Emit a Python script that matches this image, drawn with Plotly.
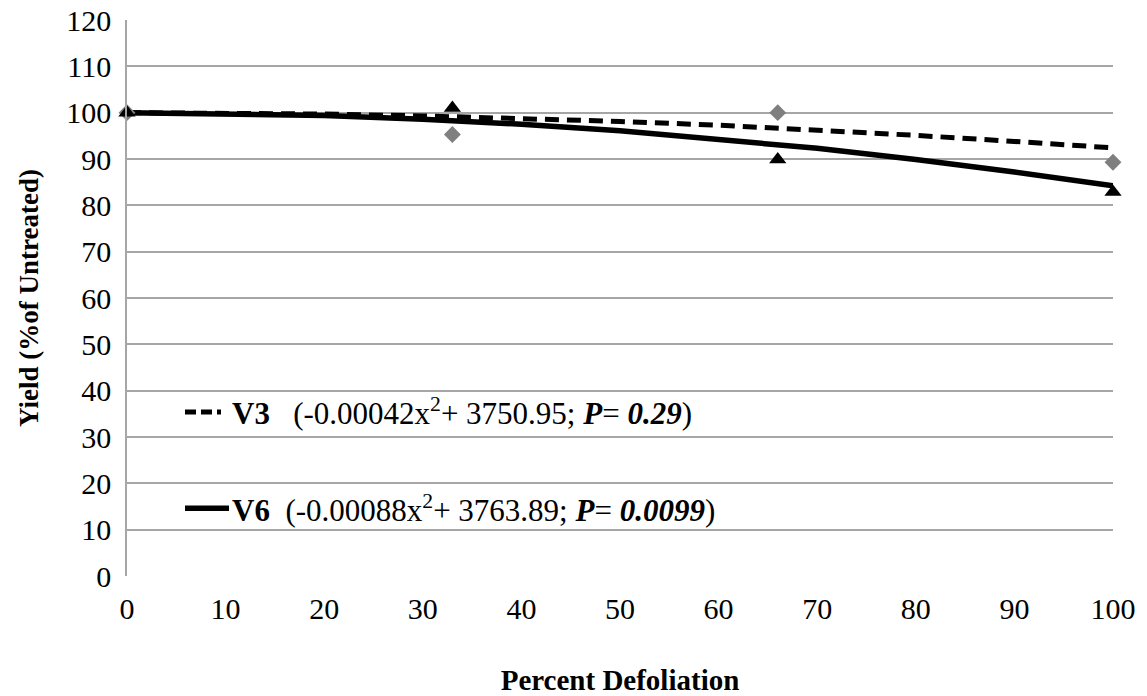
import plotly.graph_objects as go

# Observed yields (% of untreated) at each defoliation level
defoliation = [0, 33, 66, 100]
v3_yield = [100.0, 95.3, 100.0, 89.3]
v6_yield = [100.0, 101.0, 89.9, 82.9]

# Fitted quadratic trend curves, sampled every 10 % defoliation
trend_x = [0, 10, 20, 30, 40, 50, 60, 70, 80, 90, 100]
v3_trend = [100.0, 99.9, 99.7, 99.3, 98.8, 98.1, 97.3, 96.3, 95.1, 93.8, 92.4]
v6_trend = [100.0, 99.8, 99.4, 98.6, 97.5, 96.1, 94.3, 92.3, 89.9, 87.2, 84.2]

x_ticks = [0, 10, 20, 30, 40, 50, 60, 70, 80, 90, 100]
y_ticks = [0, 10, 20, 30, 40, 50, 60, 70, 80, 90, 100, 110, 120]

v3_label = "<b>V3</b>   (-0.00042x<sup>2</sup>+ 3750.95; <b><i>P</i></b>= <b><i>0.29</i></b>)"
v6_label = "<b>V6</b>  (-0.00088x<sup>2</sup>+ 3763.89; <b><i>P</i></b>= <b><i>0.0099</i></b>)"

FONT = "Liberation Serif, Times New Roman, serif"

fig = go.Figure()

fig.add_trace(go.Scatter(
    x=trend_x, y=v3_trend, mode="lines",
    line=dict(color="black", width=5, dash="14px,8px"),
    showlegend=False, hoverinfo="skip"))
fig.add_trace(go.Scatter(
    x=trend_x, y=v6_trend, mode="lines",
    line=dict(color="black", width=5.5),
    showlegend=False, hoverinfo="skip"))
fig.add_trace(go.Scatter(
    x=defoliation, y=v3_yield, mode="markers",
    marker=dict(symbol="diamond", size=13, color="#7f7f7f"),
    showlegend=False, cliponaxis=False))
fig.add_trace(go.Scatter(
    x=defoliation, y=v6_yield, mode="markers",
    marker=dict(symbol="triangle-up", size=15, color="black"),
    showlegend=False, cliponaxis=False))

# Hand-built key: sample line plus equation text
key_rows = [(v3_label, 0.295,
             dict(color="black", width=5, dash="11px,5px,11px,5px,4px,100px")),
            (v6_label, 0.122, dict(color="black", width=5.5))]
for text, yp, ln in key_rows:
    fig.add_shape(type="line", xref="paper", yref="paper",
                  x0=(185 - 127) / 986, x1=(229 - 127) / 986, y0=yp, y1=yp,
                  line=ln)
    fig.add_annotation(xref="paper", yref="paper", x=(230 - 127) / 986, y=yp,
                       xanchor="left", yanchor="middle", showarrow=False,
                       text=text, font=dict(family=FONT, size=31, color="black"))

fig.update_layout(
    width=1147, height=696,
    margin=dict(l=127, r=34, t=20, b=120),
    paper_bgcolor="white", plot_bgcolor="white",
    font=dict(family=FONT, size=30, color="black"),
    showlegend=False,
    xaxis=dict(
        range=[0, 100], tickvals=x_ticks, showgrid=False, zeroline=False,
        showline=False, ticks="", ticklabelstandoff=12, automargin=False,
        tickfont=dict(family=FONT, size=30),
        title=dict(text="<b>Percent Defoliation</b>", standoff=48,
                   font=dict(family=FONT, size=29))),
    yaxis=dict(
        range=[0, 120], tickvals=y_ticks, showgrid=True, gridcolor="#a6a6a6",
        gridwidth=1.5, zeroline=False, showline=True, linecolor="#a6a6a6",
        linewidth=1.5, ticks="", ticklabelstandoff=8, automargin=False,
        tickfont=dict(family=FONT, size=30),
        title=dict(text="<b>Yield (%of Untreated)</b>", standoff=20,
                   font=dict(family=FONT, size=27))),
)

fig.write_html("out.html")
